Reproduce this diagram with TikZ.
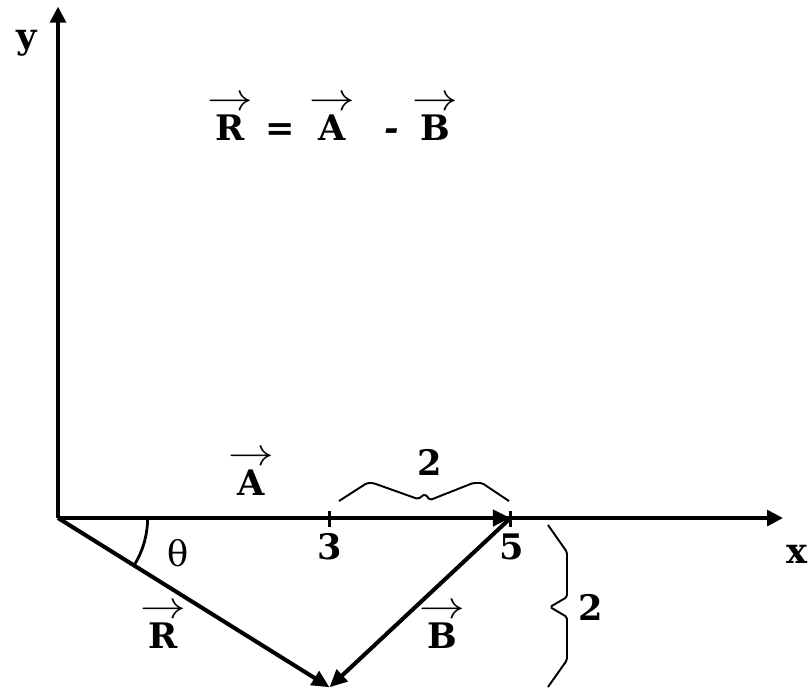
\documentclass[tikz,border=0pt]{standalone}
\usepackage{fix-cm}
\usepackage{amsmath}
\usepackage{fontspec}
\setmainfont{DejaVu Serif}
\usetikzlibrary{arrows.meta,calc}
\tikzset{
  every picture/.style={line width=1.7pt},
  axis/.style={line width=1.9pt,-{Triangle[length=9pt,width=9pt]}},
  vecA/.style={line width=2.8pt,-{Triangle[length=10pt,width=9pt]}},
  vecRB/.style={line width=2.3pt,-{Triangle[length=10pt,width=9pt]}},
  tickmark/.style={line width=1.7pt},
  kbrace/.style={line width=1.1pt,line join=round,rounded corners=1pt},
  lbl/.style={font=\fontsize{20}{24}\selectfont\bfseries,inner sep=0pt},
}
% bold letter with a thin arrow set above it
\newcommand{\vl}[1]{\begin{tabular}[b]{@{}c@{}}\scalebox{1.3}[1.1]{$\rightarrow$}\\[-7pt]\textbf{#1}\end{tabular}}

\begin{document}
\begin{tikzpicture}[x=1.81cm,y=1.81cm]
\useasboundingbox (-0.641,-1.890) rectangle (8.331,5.724);
\coordinate (O) at (0,0);
\coordinate (xend) at (8.01,0);
\coordinate (yend) at (0,5.65);
\coordinate (X3) at (3,0);
\coordinate (X5) at (5,0);
\coordinate (Rtip) at (3,-1.87);
% axes
\draw[axis] (O) -- (xend);
\draw[axis] (O) -- (yend);
\node[lbl,anchor=base] (xlab) at (8.166,-0.497) {x};
\node[lbl,anchor=base] (ylab) at (-0.343,5.19) {y};
% vectors
\draw[vecA] (O) -- (X5);
\draw[vecRB] (O) -- (Rtip);
\draw[vecRB] (X5) -- (Rtip);
\draw[tickmark] ($(X3)+(0,0.08)$) -- ($(X3)+(0,-0.10)$);
\draw[tickmark] ($(X5)+(0,0.08)$) -- ($(X5)+(0,-0.10)$);
\node[lbl,anchor=base] (n3) at (3,-0.46) {3};
\node[lbl,anchor=base] (n5) at (5.01,-0.46) {5};
% angle
\draw[line width=1.6pt] (O) ++(-31.9:0.99) arc[start angle=-31.9,end angle=0,radius=0.99];
\node[font=\fontsize{20}{24}\selectfont,inner sep=0pt] (th) at (1.326,-0.39) {θ};
% labels of the vectors
\node[lbl,anchor=base] (labA) at (2.14,0.254) {\vl{A}};
\node[lbl,anchor=base] (labR) at (1.16,-1.436) {\vl{R}};
\node[lbl,anchor=base] (labB) at (4.25,-1.436) {\vl{B}};
% equation
\node[lbl,anchor=base] (eqR) at (1.90,4.177) {\vl{R}};
\node[lbl,anchor=base] (eqeq) at (2.45,4.177) {=};
\node[lbl,anchor=base] (eqmin) at (3.69,4.177) {\textit{-}};
\node[lbl,anchor=base] (eqA) at (3.03,4.177) {\vl{A}};
\node[lbl,anchor=base] (eqB) at (4.17,4.177) {\vl{B}};
% braces
\draw[kbrace] (3.105,0.188) -- (3.414,0.387) -- (3.481,0.387) -- (3.978,0.210)
  -- (4.055,0.265) -- (4.110,0.199) -- (4.586,0.387) -- (4.685,0.387) -- (4.983,0.188);
\node[lbl,anchor=base] (top2) at (4.11,0.475) {2};
\draw[kbrace] (5.414,-0.077) -- (5.624,-0.376) -- (5.624,-0.873) -- (5.436,-0.983)
  -- (5.624,-1.094) -- (5.624,-1.569) -- (5.414,-1.867);
\node[lbl,anchor=base] (side2) at (5.89,-1.127) {2};
\end{tikzpicture}
\end{document}
